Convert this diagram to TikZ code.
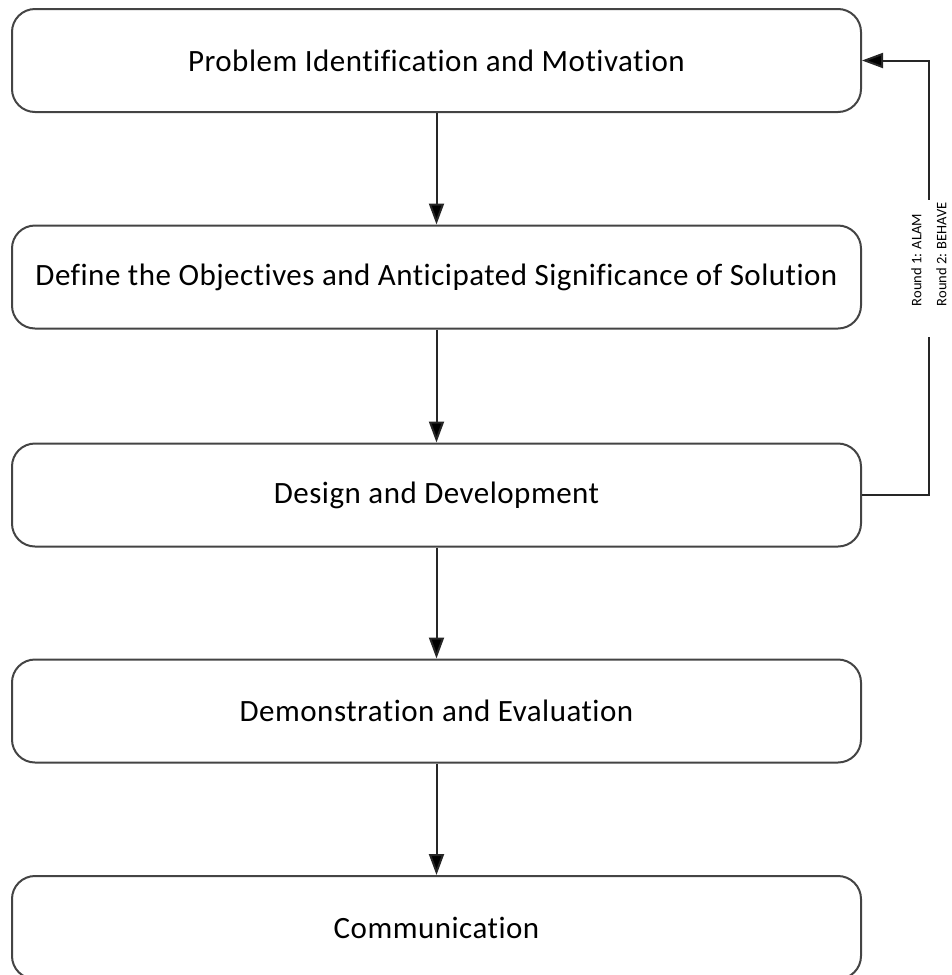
\documentclass[tikz,border=0pt]{standalone}
\usepackage{fontspec}
\setmainfont[Ligatures=NoCommon]{Carlito}
\usetikzlibrary{arrows.meta}
\definecolor{boxgray}{HTML}{444444}
\definecolor{linegray}{HTML}{262626}
\begin{document}
\begin{tikzpicture}[x=1pt,y=-1pt,
  stage/.style={draw=boxgray, line width=2pt, fill=white, rounded corners=23pt,
    minimum width=849pt, minimum height=103pt, inner sep=0pt,
    font=\fontsize{31}{37}\selectfont\addfontfeature{LetterSpace=1.6}},
  flow/.style={draw=linegray, line width=2pt,
    -{Triangle[length=21pt,width=15pt,fill=black]}},
  loopline/.style={draw=linegray, line width=2pt},
  note/.style={rotate=90, align=left, inner sep=2pt,
    font=\fontsize{14.5}{25}\selectfont}]
  \useasboundingbox (0,0) rectangle (952,975);
  \clip (0,0) rectangle (952,975);

  % process stages
  \node[stage] (prob) at (436.5,60.5)  {Problem Identification and Motivation};
  \node[stage] (obj)  at (436.5,277)   {Define the Objectives and Anticipated Significance of Solution};
  \node[stage] (des)  at (436.5,495)   {Design and Development};
  \node[stage] (demo) at (436.5,711)   {Demonstration and Evaluation};
  \node[stage] (comm) at (436.5,927.5) {Communication};

  % main flow
  \draw[flow] (prob) -- (obj);
  \draw[flow] (obj)  -- (des);
  \draw[flow] (des)  -- (demo);
  \draw[flow] (demo) -- (comm);

  % iteration loop back to the first stage
  \node[note] (iter) at (929,254) {Round 1: ALAM\\Round 2: BEHAVE};
  \draw[loopline] (des.east) -| ([yshift=-29pt]iter.west);
  \draw[flow] (iter.east) |- (prob.east);
\end{tikzpicture}
\end{document}
